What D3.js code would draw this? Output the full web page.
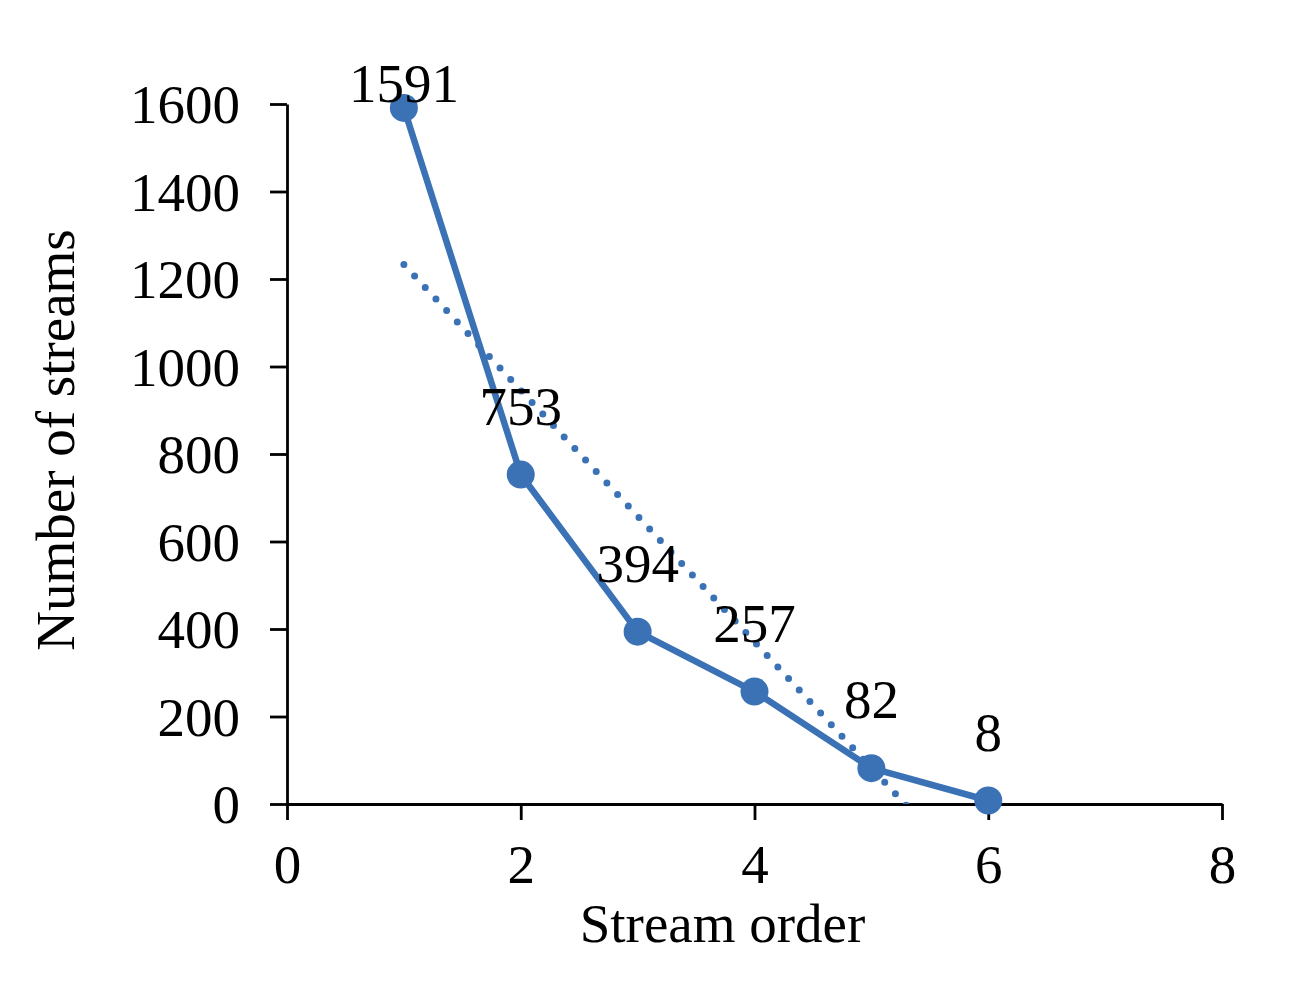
<!DOCTYPE html>
<html lang="en">
<head>
  <meta charset="utf-8">
  <title>Number of streams by stream order</title>
  <script src="https://d3js.org/d3.v7.min.js"></script>
  <style>
    body {
      margin: 0;
      background: #fff;
    }
    text {
      font-family: "Liberation Serif", "Times New Roman", serif;
      fill: #000;
    }
    .axis path,
    .axis line {
      fill: none;
      stroke: #000;
      stroke-width: 2.8;
    }
    .axis text {
      font-size: 55px;
    }
  </style>
</head>
<body>
<svg id="chart" width="1302" height="986"></svg>

<script>
  // Data
  const streamOrder = [1, 2, 3, 4, 5, 6];
  const streamCount = [1591, 753, 394, 257, 82, 8];
  const xTicks = [0, 2, 4, 6, 8];
  const yTicks = [0, 200, 400, 600, 800, 1000, 1200, 1400, 1600];

  const blue = "#3b72b6";

  // Plot area
  const plot = { left: 287, right: 1222, top: 104, bottom: 804 };

  const svg = d3.select("#chart");

  const x = d3.scaleLinear().domain([0, 8]).range([plot.left, plot.right]);
  const y = d3.scaleLinear().domain([0, 1600]).range([plot.bottom, plot.top]);

  const points = streamOrder.map((o, i) => ({ x: o, y: streamCount[i] }));

  // Axes
  svg.append("g")
    .attr("class", "axis")
    .attr("transform", `translate(${plot.left},0)`)
    .call(d3.axisLeft(y).tickValues(yTicks).tickFormat(d3.format("d"))
      .tickSize(17).tickSizeOuter(0).tickPadding(30))
    .call(g => g.selectAll("text").attr("dy", "0.34em"));

  svg.append("g")
    .attr("class", "axis")
    .attr("transform", `translate(0,${plot.bottom})`)
    .call(d3.axisBottom(x).tickValues(xTicks).tickFormat(d3.format("d"))
      .tickSize(16).tickSizeOuter(0).tickPadding(30))
    .call(g => g.selectAll("text").attr("dy", "0.6em"));

  // Linear trendline (least squares on the data), clipped to the plot area
  const mx = d3.mean(points, d => d.x), my = d3.mean(points, d => d.y);
  const slope = d3.sum(points, d => (d.x - mx) * (d.y - my)) / d3.sum(points, d => (d.x - mx) ** 2);
  const intercept = my - slope * mx;
  const x0 = d3.min(streamOrder), x1 = d3.max(streamOrder);

  svg.append("clipPath").attr("id", "plotClip")
    .append("rect")
    .attr("x", plot.left).attr("y", plot.top - 40)
    .attr("width", plot.right - plot.left).attr("height", plot.bottom - plot.top + 40);

  svg.append("line")
    .attr("clip-path", "url(#plotClip)")
    .attr("x1", x(x0)).attr("y1", y(slope * x0 + intercept))
    .attr("x2", x(x1)).attr("y2", y(slope * x1 + intercept))
    .attr("stroke", blue)
    .attr("stroke-width", 7)
    .attr("stroke-linecap", "round")
    .attr("stroke-dasharray", "0 15.7");

  // Series line and markers
  svg.append("path")
    .datum(points)
    .attr("fill", "none")
    .attr("stroke", blue)
    .attr("stroke-width", 6.5)
    .attr("stroke-linejoin", "round")
    .attr("d", d3.line().x(d => x(d.x)).y(d => y(d.y)));

  svg.selectAll("circle.marker")
    .data(points)
    .enter()
    .append("circle")
    .attr("class", "marker")
    .attr("cx", d => x(d.x))
    .attr("cy", d => y(d.y))
    .attr("r", 14)
    .attr("fill", blue);

  // Data labels above each point (kept inside the chart at the top)
  svg.selectAll("text.label")
    .data(points)
    .enter()
    .append("text")
    .attr("class", "label")
    .attr("x", d => x(d.x))
    .attr("y", d => Math.max(y(d.y) - 50, 102))
    .attr("text-anchor", "middle")
    .style("font-size", "55px")
    .text(d => d.y);

  // Axis titles
  svg.append("text")
    .attr("x", (plot.left + plot.right) / 2 - 32)
    .attr("y", 942)
    .attr("text-anchor", "middle")
    .style("font-size", "55px")
    .text("Stream order");

  svg.append("text")
    .attr("transform", `translate(74,${(plot.top + plot.bottom) / 2 - 14}) rotate(-90)`)
    .attr("text-anchor", "middle")
    .style("font-size", "55px")
    .text("Number of streams");
</script>
</body>
</html>
